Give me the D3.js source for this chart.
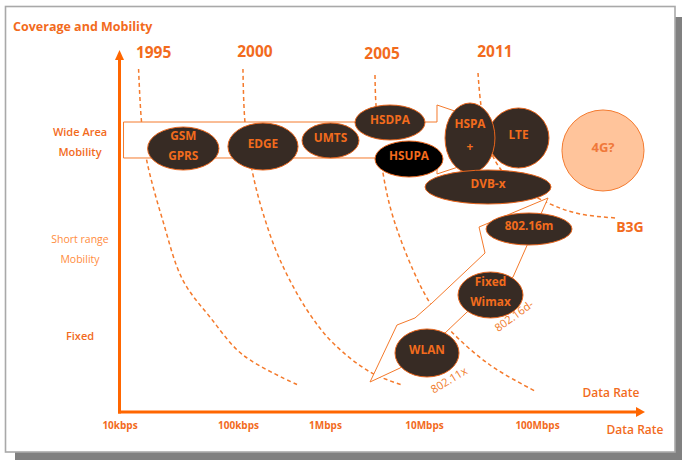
<!DOCTYPE html>
<html><head><meta charset="utf-8">
<script src="https://cdn.jsdelivr.net/npm/d3@7"></script>
<style>
body{margin:0;background:#fff;}
svg{display:block;font-family:"Open Sans",sans-serif;}
</style>
</head><body>
<svg id="c" width="682" height="460"></svg>
<script>
// ---------- data ----------
// x: data rate as log10(kbps); y: coverage / mobility index
const rateTicks = [1, 2, 3, 4, 5];
const rateTickLabels = ["10kbps", "100kbps", "1Mbps", "10Mbps", "100Mbps"];

const coverageLabels = [["Wide Area", "Mobility"], ["Short range", "Mobility"], ["Fixed"]];
const coverageLevels = [7.459, 4.503, 2.099];

const techNames = ["GSM\nGPRS", "EDGE", "UMTS", "HSDPA", "HSUPA", "LTE", "HSPA\n+", "DVB-x", "802.16m", "Fixed\nWimax", "WLAN", "4G?"];
const techRate = [[1.237,1.839],[1.915,2.690],[2.736,3.343],[3.303,4.009],[3.505,4.168],[4.566,5.111],[4.186,4.628],[4.009,5.130],[4.549,5.324],[4.301,4.876],[3.707,4.310],[5.231,5.991]];
const techCoverage = [[6.685,7.873],[6.685,7.983],[7.017,7.983],[7.514,8.481],[6.492,7.486],[6.740,8.398],[6.602,8.536],[5.746,6.685],[4.613,5.497],[2.597,3.867],[0.967,2.293],[6.105,8.343]];

const years = ["1995", "2000", "2005", "2011"];
const yearRate = [1.288, 2.195, 3.576, 4.628];
const yearCoverage = [9.779, 9.807, 9.751, 9.807];
const yearCurves = [
  [[1.161,9.475],[1.186,8.011],[1.229,6.961],[1.364,5.304],[1.534,3.646],[1.763,2.624],[2.057,1.575],[2.690,0.746]],
  [[2.057,9.475],[2.080,8.011],[2.161,6.685],[2.287,5.497],[2.483,4.199],[2.793,2.818],[3.081,1.906],[3.455,1.105],[3.778,0.746]],
  [[3.505,9.309],[3.515,8.481],[3.586,6.602],[3.687,5.387],[3.889,3.923],[4.053,3.011],[4.230,2.265],[4.584,1.298],[4.982,0.580]],
  [[4.478,9.365],[4.504,8.481],[4.584,7.238],[4.761,6.409],[5.102,5.773],[5.398,5.470],[5.741,5.359]]
];

const wideAreaArrow = [[1.034,8.011],[4.115,8.011],[4.115,8.481],[5.028,7.514],[4.115,6.575],[4.115,7.017],[1.034,7.017]];
const shortRangeArrow = [[3.455,0.829],[3.727,2.403],[3.909,2.597],[4.071,3.011],[4.540,4.392],[4.487,5.110],[5.102,5.912],[4.788,3.729],[4.381,2.762],[4.186,2.182],[3.758,1.215]];

const standardNames = ["802.16d-", "802.11x"];
const standardRate = [4.796, 4.221];
const standardCoverage = [2.652, 0.884];

const generationName = "B3G";
const generationRate = 5.861;
const generationCoverage = 5.110;

// ---------- drawing ----------
const ORANGE = "#FF6600", TXT = "#F26B1D", LINE = "#F47A2C";
const svg = d3.select("#c");

const x = d3.scaleLinear().domain([1,2,3,4,5,6]).range([119.5,238,325,424,537,645]);
const y = d3.scaleLinear().domain([0,10]).range([412,50]);

// frame with shadow
svg.append("rect").attr("x",15).attr("y",17).attr("width",667).attr("height",443).attr("fill","#808080");
svg.append("rect").attr("x",5.5).attr("y",6.5).attr("width",669.5).attr("height",445.5)
  .attr("fill","#fff").attr("stroke","#A9A9A9").attr("stroke-width",1.6);

// title
svg.append("text").attr("x",13).attr("y",31).attr("fill",TXT)
  .attr("font-size",12.5).attr("font-weight",700).text("Coverage and Mobility");

// year curves
const curve = d3.line().x(d=>x(d[0])).y(d=>y(d[1])).curve(d3.curveCatmullRom.alpha(0.5));
svg.append("g").selectAll("path").data(yearCurves).join("path")
  .attr("d",curve).attr("fill","none").attr("stroke",LINE).attr("stroke-width",1.5)
  .attr("stroke-dasharray","4,3");

// year labels
svg.append("g").selectAll("text").data(years).join("text")
  .attr("x",(d,i)=>x(yearRate[i])).attr("y",(d,i)=>y(yearCoverage[i]))
  .attr("text-anchor","middle").attr("fill",TXT).attr("font-size",15.5).attr("font-weight",700)
  .text(d=>d);

// arrows (white filled)
const poly = d3.line().x(d=>x(d[0])).y(d=>y(d[1]));
[wideAreaArrow, shortRangeArrow].forEach(a=>{
  svg.append("path").attr("d",poly(a)+"Z").attr("fill","#fff").attr("stroke",LINE).attr("stroke-width",1);
});

// ellipses
const fillFor = n => n==="HSUPA" ? "#000" : n==="4G?" ? "#FFC49B" : "#372B24";
const tg = svg.append("g");
techNames.forEach((n,i)=>{
  const x0 = x(techRate[i][0]), x1 = x(techRate[i][1]);
  const y0 = y(techCoverage[i][1]), y1 = y(techCoverage[i][0]);
  const cx = (x0+x1)/2, cy = (y0+y1)/2, rx = (x1-x0)/2, ry = (y1-y0)/2;
  tg.append("ellipse").attr("cx",cx).attr("cy",cy).attr("rx",rx).attr("ry",ry)
    .attr("fill",fillFor(n)).attr("stroke",n==="4G?"?"#F47B30":"#E8651C").attr("stroke-width",1);
  const lines = n.split("\n");
  const gap = ry > 30 ? 23 : 20;
  const c0 = cy - 3 - (lines.length-1)*gap/2;
  lines.forEach((l,k)=>{
    tg.append("text").attr("x",cx).attr("y",c0 + k*gap).attr("dy","0.36em")
      .attr("text-anchor","middle").attr("fill",n==="4G?"?"#F0783A":TXT)
      .attr("font-size",n==="4G?"?13:11.8).attr("font-weight",700).text(l);
  });
});

// rotated standard labels
const angles = [-36,-31];
standardNames.forEach((n,i)=>{
  const px = x(standardRate[i]), py = y(standardCoverage[i]);
  svg.append("text").attr("transform",`translate(${px},${py}) rotate(${angles[i]})`)
    .attr("text-anchor","middle").attr("dy","0.35em").attr("fill","#F07A2A")
    .attr("font-size",11).text(n);
});

// B3G
svg.append("text").attr("x",x(generationRate)).attr("y",y(generationCoverage)).attr("dy","0.36em")
  .attr("text-anchor","middle").attr("fill",TXT).attr("font-size",14).attr("font-weight",700).text(generationName);

// coverage category labels
coverageLabels.forEach((ls,i)=>{
  const c = y(coverageLevels[i]);
  const light = i===1;
  ls.forEach((l,k)=>{
    svg.append("text").attr("x",80).attr("y",c + (k-(ls.length-1)/2)*20).attr("dy","0.36em")
      .attr("text-anchor","middle").attr("fill",light?"#FF8C40":TXT)
      .attr("font-size",light?10.5:11).attr("font-weight",light?400:600).text(l);
  });
});

// axes
const ox = x(1), oy = y(0);
svg.append("line").attr("x1",ox).attr("y1",oy+1.5).attr("x2",ox).attr("y2",y(10)+8)
  .attr("stroke",ORANGE).attr("stroke-width",3);
svg.append("path").attr("d",`M${ox},${y(10)}L${ox-4.5},${y(10)+10}L${ox+4.5},${y(10)+10}Z`).attr("fill",ORANGE);
svg.append("line").attr("x1",ox-1.5).attr("y1",oy).attr("x2",x(6)-7).attr("y2",oy)
  .attr("stroke",ORANGE).attr("stroke-width",3);
svg.append("path").attr("d",`M${x(6)},${oy}L${x(6)-9},${oy-5}L${x(6)-9},${oy+5}Z`).attr("fill",ORANGE);

const ax = svg.append("g").attr("transform",`translate(0,${oy})`)
  .call(d3.axisBottom(x).tickValues(rateTicks).tickFormat((d,i)=>rateTickLabels[i]).tickSize(0).tickPadding(9.5));
ax.select(".domain").remove();
ax.selectAll("text").attr("fill",TXT).attr("font-size",10).attr("font-weight",700)
  .attr("font-family","'Open Sans',sans-serif");

// axis titles
svg.append("text").attr("x",611).attr("y",397).attr("text-anchor","middle").attr("fill",TXT)
  .attr("font-size",12).attr("font-weight",600).text("Data Rate");
svg.append("text").attr("x",635).attr("y",434).attr("text-anchor","middle").attr("fill",TXT)
  .attr("font-size",12).attr("font-weight",600).text("Data Rate");
</script>
</body></html>
